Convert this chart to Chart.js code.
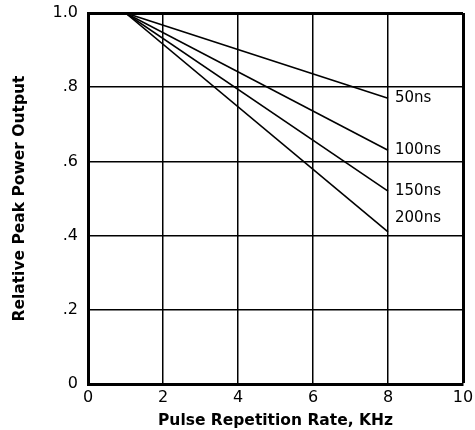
<!DOCTYPE html>
<html>
<head>
<meta charset="utf-8">
<script src="https://cdn.jsdelivr.net/npm/chart.js@4/dist/chart.umd.min.js"></script>
<style>
  body { margin: 0; background: #fff; }
  #wrap { width: 475px; height: 430px; }
</style>
</head>
<body>
<div id="wrap"><canvas id="chart" width="475" height="430"></canvas></div>
<script>
// pulse repetition rate, KHz (start and end of each curve)
var rates = [1, 8];

// relative peak power output per pulse width
var ns50  = [1.0, 0.77];
var ns100 = [1.0, 0.63];
var ns150 = [1.0, 0.52];
var ns200 = [1.0, 0.41];

var seriesNames = ['50ns', '100ns', '150ns', '200ns'];

var yTickLabels = ['0', '.2', '.4', '.6', '.8', '1.0'];
var xTickLabels = ['0', '2', '4', '6', '8', '10'];

function pts(vals) {
    return rates.map(function(r, i) { return { x: r, y: vals[i] }; });
}

// writes the series name next to the end of every line
var endLabels = {
    id: 'endLabels',
    afterDatasetsDraw: function(chart) {
        var ctx = chart.ctx;
        var xs = chart.scales.x, ys = chart.scales.y;
        ctx.save();
        ctx.font = '15px "DejaVu Sans"';
        ctx.fillStyle = '#000';
        ctx.textAlign = 'left';
        ctx.textBaseline = 'middle';
        chart.data.datasets.forEach(function(ds, i) {
            var last = ds.data[ds.data.length - 1];
            var px = xs.getPixelForValue(last.x) + 7;
            var py = ys.getPixelForValue(last.y);
            if (i === 3) py -= 14;   // 200ns sits above its end point
            ctx.fillText(ds.label, px, py);
        });
        ctx.restore();
    }
};

var lineStyle = { borderColor: '#000', borderWidth: 1.6, pointRadius: 0, fill: false, tension: 0 };

new Chart(document.getElementById('chart').getContext('2d'), {
    type: 'line',
    data: {
        datasets: [
            Object.assign({ label: seriesNames[0], data: pts(ns50) }, lineStyle),
            Object.assign({ label: seriesNames[1], data: pts(ns100) }, lineStyle),
            Object.assign({ label: seriesNames[2], data: pts(ns150) }, lineStyle),
            Object.assign({ label: seriesNames[3], data: pts(ns200) }, lineStyle)
        ]
    },
    options: {
        responsive: false,
        animation: false,
        layout: { padding: { left: 0, right: 12, top: 13, bottom: 0 } },
        plugins: { legend: { display: false }, tooltip: { enabled: false } },
        scales: {
            x: {
                type: 'linear', min: 0, max: 10,
                ticks: {
                    stepSize: 2, padding: 4, color: '#000',
                    font: { family: 'DejaVu Sans', size: 16 },
                    callback: function(v) { return xTickLabels[v / 2]; }
                },
                grid: {
                    color: '#000', drawTicks: false,
                    lineWidth: function(c) { return c.tick && c.tick.value === 10 ? 3 : 1.5; }
                },
                border: { color: '#000', width: 3 },
                title: {
                    display: true, text: 'Pulse Repetition Rate, KHz', color: '#000',
                    font: { family: 'DejaVu Sans', size: 15.5, weight: 'bold' },
                    padding: { top: 0, bottom: 0 }
                },
                afterFit: function(s) { s.height = 46; s.paddingLeft = 0; s.paddingRight = 0; }
            },
            y: {
                min: 0, max: 1,
                ticks: {
                    stepSize: 0.2, padding: 10, color: '#000',
                    font: { family: 'DejaVu Sans', size: 16 },
                    callback: function(v) { return yTickLabels[Math.round(v * 5)]; }
                },
                grid: {
                    color: '#000', drawTicks: false,
                    lineWidth: function(c) { return c.tick && c.tick.value === 1 ? 3 : 1.5; }
                },
                border: { color: '#000', width: 3 },
                title: {
                    display: true, text: 'Relative Peak Power Output', color: '#000',
                    font: { family: 'DejaVu Sans', size: 15.5, weight: 'bold' },
                    padding: { top: 11, bottom: 0 }
                },
                afterFit: function(s) { s.width = 88; s.paddingTop = 0; s.paddingBottom = 0; }
            }
        }
    },
    plugins: [endLabels]
});
</script>
</body>
</html>
